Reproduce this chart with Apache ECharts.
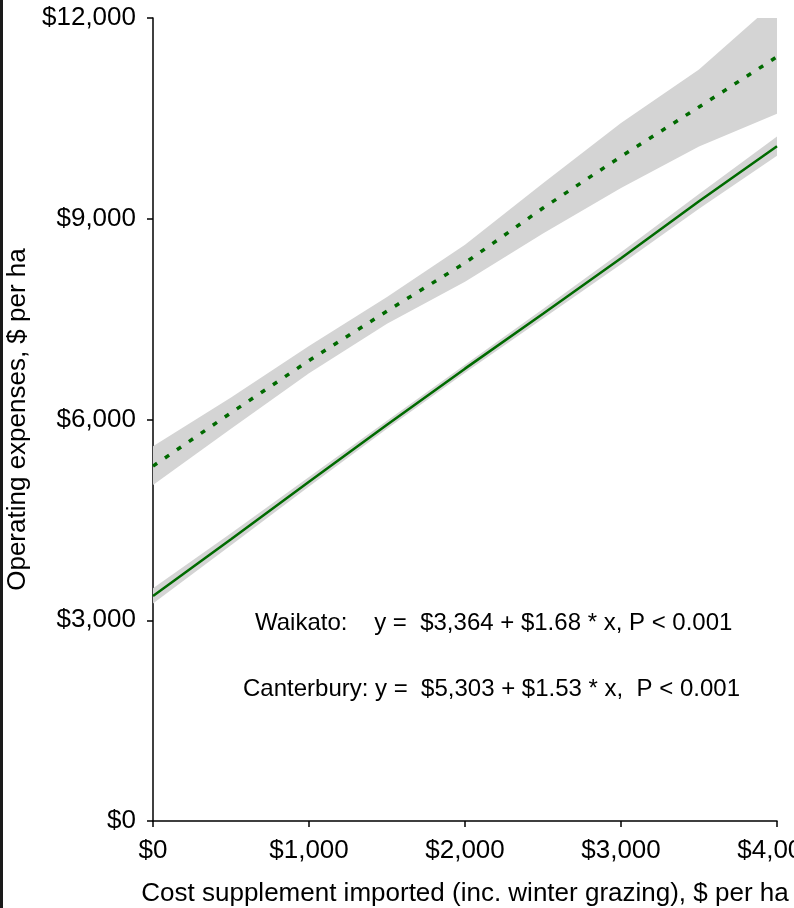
<!DOCTYPE html>
<html>
<head>
<meta charset="utf-8">
<script src="https://cdn.jsdelivr.net/npm/echarts@6/dist/echarts.min.js"></script>
<style>
  html, body { margin: 0; padding: 0; background: #fff; }
  #chart { width: 794px; height: 908px; }
</style>
</head>
<body>
<div id="chart"></div>
<script>
// cost of supplement imported, $ per ha
const xValues = [0, 500, 1000, 1500, 2000, 2500, 3000, 3500, 4000];

// Waikato fitted line + confidence band
const waikatoFit   = [3364, 4210, 5070, 5920, 6760, 7580, 8410, 9260, 10084];
const waikatoLower = [3250, 4120, 5000, 5860, 6700, 7510, 8320, 9150, 9940];
const waikatoUpper = [3480, 4300, 5140, 5980, 6820, 7650, 8500, 9370, 10230];

// Canterbury fitted line + confidence band
const canterburyFit   = [5303, 6100, 6880, 7620, 8340, 9160, 9930, 10670, 11420];
const canterburyLower = [5020, 5860, 6690, 7430, 8060, 8780, 9460, 10080, 10570];
const canterburyUpper = [5600, 6330, 7100, 7830, 8610, 9530, 10430, 11230, 12260];

const yTicks = { min: 0, max: 12000, interval: 3000 };
const xTicks = { min: 0, max: 4000, interval: 1000 };

const FONT = "Liberation Sans, Arial, sans-serif";
const GREEN = "#006a00";
const BAND = "#d4d4d4";

function pairs(ys) {
  return xValues.map((x, i) => [x, ys[i]]);
}
function money(v) {
  return "$" + v.toLocaleString("en-US");
}

// confidence band drawn as one polygon through the axis scales
function bandSeries(name, lo, hi) {
  return {
    name: name + "-band",
    type: "custom",
    data: xValues.map((x, i) => [x, lo[i], hi[i]]),
    encode: { x: 0, y: [1, 2] },
    clip: true,
    silent: true,
    z: 1,
    renderItem: function (params, api) {
      if (params.dataIndex !== 0) return null;
      const top = [];
      const bottom = [];
      for (let i = 0; i < xValues.length; i++) {
        bottom.push(api.coord([xValues[i], lo[i]]));
        top.push(api.coord([xValues[i], hi[i]]));
      }
      return {
        type: "polygon",
        shape: { points: bottom.concat(top.reverse()) },
        style: { fill: BAND },
      };
    },
  };
}

const chart = echarts.init(document.getElementById("chart"));
const option = {
  animation: false,
  backgroundColor: "#fff",
  grid: { left: 153, right: 17, top: 18, bottom: 87, outerBoundsMode: "none", containLabel: false },
  xAxis: {
    type: "value",
    min: xTicks.min,
    max: xTicks.max,
    interval: xTicks.interval,
    name: "Cost supplement imported (inc. winter grazing), $ per ha",
    nameLocation: "middle",
    nameGap: 60,
    nameTextStyle: { fontFamily: FONT, fontSize: 26, color: "#000" },
    axisLine: { show: true, lineStyle: { color: "#000", width: 1.5 } },
    axisTick: { show: true, length: 6, lineStyle: { color: "#000", width: 1.5 } },
    axisLabel: {
      fontFamily: FONT, fontSize: 26, color: "#000", margin: 17,
      formatter: money,
    },
    splitLine: { show: false },
  },
  yAxis: {
    type: "value",
    min: yTicks.min,
    max: yTicks.max,
    interval: yTicks.interval,
    name: "Operating expenses, $ per ha",
    nameLocation: "middle",
    nameGap: 120,
    nameTextStyle: { fontFamily: FONT, fontSize: 26, color: "#000" },
    axisLine: { show: true, lineStyle: { color: "#000", width: 1.5 } },
    axisTick: { show: true, length: 6, lineStyle: { color: "#000", width: 1.5 } },
    axisLabel: {
      fontFamily: FONT, fontSize: 26, color: "#000", margin: 17,
      formatter: money,
    },
    splitLine: { show: false },
  },
  graphic: [
    // dark strip at the left edge of the scan
    { type: "rect", left: 0, top: 0, shape: { width: 3, height: 908 }, style: { fill: "#1a1a1a" } },
    {
      type: "text", left: 255, top: 611,
      style: { text: "Waikato:    y =  $3,364 + $1.68 * x, P < 0.001", font: "24px " + FONT, fill: "#000" },
    },
    {
      type: "text", left: 243, top: 677,
      style: { text: "Canterbury: y =  $5,303 + $1.53 * x,  P < 0.001", font: "24px " + FONT, fill: "#000" },
    },
  ],
  series: [
    bandSeries("canterbury", canterburyLower, canterburyUpper),
    bandSeries("waikato", waikatoLower, waikatoUpper),
    {
      name: "Canterbury",
      type: "line",
      data: pairs(canterburyFit),
      symbol: "none",
      lineStyle: { color: GREEN, width: 3.5, type: [5, 9.5] },
      z: 5,
    },
    {
      name: "Waikato",
      type: "line",
      data: pairs(waikatoFit),
      symbol: "none",
      lineStyle: { color: GREEN, width: 2.5 },
      z: 5,
    },
  ],
};
chart.setOption(option);
</script>
</body>
</html>
